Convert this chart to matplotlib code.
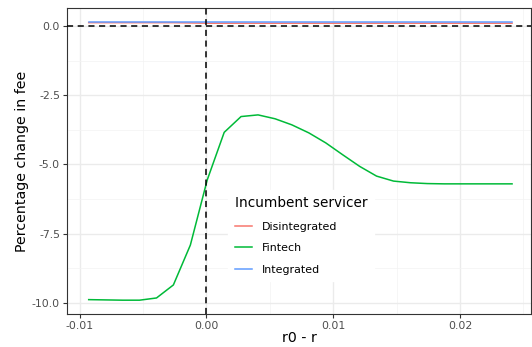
import matplotlib
matplotlib.use('Agg')
import matplotlib.pyplot as plt
import numpy as np
from matplotlib.ticker import MultipleLocator

# r0 - r grid
x = [-0.00929, -0.00795, -0.00662, -0.00528, -0.00394, -0.00261, -0.00127,
     0.00006, 0.00140, 0.00273, 0.00407, 0.00541, 0.00674, 0.00808,
     0.00941, 0.01075, 0.01209, 0.01342, 0.01476, 0.01610, 0.01743,
     0.01877, 0.02010, 0.02144, 0.02277, 0.02411]

fintech = [-9.88, -9.89, -9.90, -9.90, -9.82, -9.35, -7.91, -5.56, -3.84,
           -3.27, -3.21, -3.35, -3.57, -3.86, -4.22, -4.65, -5.07, -5.42,
           -5.60, -5.66, -5.69, -5.70, -5.70, -5.70, -5.70, -5.70]

disintegrated = [0.12, 0.12, 0.12, 0.12, 0.12, 0.12, 0.11, 0.10, 0.10,
                 0.10, 0.10, 0.10, 0.10, 0.10, 0.10, 0.10, 0.10, 0.10,
                 0.10, 0.10, 0.10, 0.10, 0.10, 0.10, 0.10, 0.10]

integrated = [0.15, 0.15, 0.15, 0.15, 0.15, 0.15, 0.15, 0.15, 0.15,
              0.15, 0.15, 0.15, 0.15, 0.15, 0.15, 0.15, 0.15, 0.15,
              0.15, 0.15, 0.15, 0.15, 0.15, 0.15, 0.15, 0.15]

labels = ['Disintegrated', 'Fintech', 'Integrated']
colors = ['#F8766D', '#00BA38', '#619CFF']

fig = plt.figure(figsize=(5.32, 3.47), dpi=100)
ax = fig.add_axes([0.126, 0.095, 0.872, 0.882])

for lab, col, yv in zip(labels, colors, [disintegrated, fintech, integrated]):
    ax.plot(x, yv, color=col, lw=1.1, label=lab, zorder=3)

ax.axhline(0, color='black', ls=(0, (4, 3)), lw=1.1, zorder=4)
ax.axvline(0, color='black', ls=(0, (4, 3)), lw=1.1, zorder=4)

ax.set_xlim(-0.0110, 0.0256)
ax.set_ylim(-10.4, 0.65)
ax.xaxis.set_minor_locator(MultipleLocator(0.005))
ax.yaxis.set_minor_locator(MultipleLocator(1.25))
ax.set_xticks([-0.01, 0.0, 0.01, 0.02])
ax.set_xticklabels(['-0.01', '0.00', '0.01', '0.02'])
ax.set_yticks([0, -2.5, -5, -7.5, -10])
ax.set_yticklabels(['0.0', '-2.5', '-5.0', '-7.5', '-10.0'])

ax.grid(which='major', color='#EBEBEB', lw=1.0, zorder=0)
ax.grid(which='minor', color='#F3F3F3', lw=0.5, zorder=0)
ax.set_axisbelow(True)
for s in ax.spines.values():
    s.set_color('#333333')
    s.set_linewidth(0.8)
ax.tick_params(which='major', length=3, width=0.8, color='#333333',
               labelsize=7.8, labelcolor='#4D4D4D', pad=2)
ax.tick_params(which='minor', length=0)

ax.set_xlabel('r0 - r', fontsize=10.2, labelpad=0)
ax.set_ylabel('Percentage change in fee', fontsize=10.2, labelpad=2)

leg = ax.legend(title='Incumbent servicer', loc='center',
                bbox_to_anchor=(0.505, 0.257), frameon=True, fontsize=7.9,
                title_fontsize=9.8, handlelength=1.5, handletextpad=0.95,
                labelspacing=1.05, borderpad=0.6, fancybox=False)
leg.get_frame().set_facecolor('white')
leg.get_frame().set_edgecolor('white')
leg.get_frame().set_alpha(1)
leg._legend_box.align = 'left'

fig.savefig('out.png', dpi=100)
